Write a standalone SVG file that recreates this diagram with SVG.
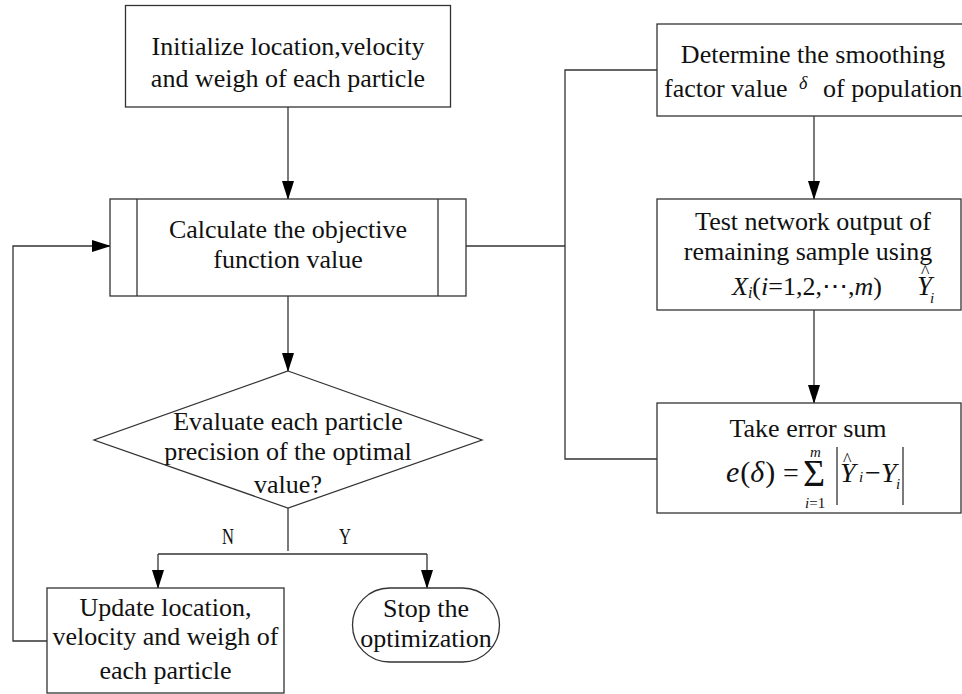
<svg xmlns="http://www.w3.org/2000/svg" width="962" height="694" viewBox="0 0 962 694">
<style>
.box{fill:#fff;stroke:#333;stroke-width:1.3}
.ln{fill:none;stroke:#333;stroke-width:1.3}
text{font-family:"Liberation Serif","Times New Roman",serif;font-size:26px;fill:#111}
.c{text-anchor:middle}
.it{font-style:italic}
</style>
<defs>
<marker id="ah2" markerWidth="19" markerHeight="12" refX="18" refY="6" orient="auto" markerUnits="userSpaceOnUse" viewBox="0 0 19 12">
<path d="M0,0 L19,6 L0,12 Z" fill="#000"/>
</marker>
</defs>
<rect width="962" height="694" fill="#fff"/>
<g id="connectors">
<line class="ln" x1="288" y1="107" x2="288" y2="199" marker-end="url(#ah2)"/>
<line class="ln" x1="288" y1="296" x2="288" y2="371" marker-end="url(#ah2)"/>
<polyline class="ln" points="288,508 288,551"/>
<polyline class="ln" points="158,554 427,554"/>
<line class="ln" x1="158" y1="554" x2="158" y2="588" marker-end="url(#ah2)"/>
<line class="ln" x1="427" y1="554" x2="427" y2="588" marker-end="url(#ah2)"/>
<polyline class="ln" points="47,641 13,641 13,246 110,246" marker-end="url(#ah2)"/>
<polyline class="ln" points="466,246 565,246"/>
<polyline class="ln" points="657,70 565,70 565,459 657,459"/>
<line class="ln" x1="814" y1="116" x2="814" y2="199" marker-end="url(#ah2)"/>
<line class="ln" x1="814" y1="310" x2="814" y2="403" marker-end="url(#ah2)"/>
<text class="c" transform="translate(228,544) scale(0.72,1)" style="font-size:23px">N</text>
<text class="c" transform="translate(345,544) scale(0.72,1)" style="font-size:23px">Y</text>
</g>
<g id="init">
<rect class="box" x="125.5" y="5.5" width="325" height="101.5"/>
<text class="c" x="288" y="55">Initialize location,velocity</text>
<text class="c" x="288" y="87">and weigh of each particle</text>
</g>
<g id="calc">
<rect class="box" x="110" y="199" width="356" height="97"/>
<line class="ln" x1="137" y1="199" x2="137" y2="296"/>
<line class="ln" x1="438" y1="199" x2="438" y2="296"/>
<text class="c" x="288" y="238">Calculate the objective</text>
<text class="c" x="288" y="268">function value</text>
</g>
<g id="evaluate">
<polygon class="box" points="288,371 482,440 288,508 94,440"/>
<text class="c" x="288" y="430">Evaluate each particle</text>
<text class="c" x="288" y="460">precision of the optimal</text>
<text class="c" x="288" y="493">value?</text>
</g>
<g id="update">
<rect class="box" x="47" y="588" width="237" height="105"/>
<text class="c" x="165.5" y="616">Update location,</text>
<text class="c" x="165.5" y="645">velocity and weigh of</text>
<text class="c" x="165.5" y="679">each particle</text>
</g>
<g id="stop">
<rect class="box" x="352.5" y="588" width="147" height="74" rx="37" ry="37"/>
<text class="c" x="426" y="617">Stop the</text>
<text class="c" x="426" y="647">optimization</text>
</g>
<g id="determine">
<rect class="box" x="657" y="24" width="320" height="92"/>
<text class="c" x="813" y="63">Determine the smoothing</text>
<text x="664" y="97">factor value</text>
<text x="799" y="89" class="it" style="font-size:18px">δ</text>
<text x="823" y="97">of population</text>
</g>
<g id="test">
<rect class="box" x="657" y="199" width="304" height="111"/>
<text class="c" x="813" y="230">Test network output of</text>
<text class="c" x="808" y="260">remaining sample using</text>
<text x="732" y="295"><tspan class="it">X</tspan><tspan class="it" style="font-size:16px" dy="3">i</tspan><tspan dy="-3">(</tspan><tspan class="it">i</tspan>=1,2,⋯,<tspan class="it">m</tspan>)</text>
<text x="917" y="295" class="it" style="font-size:27px">Y</text>
<text x="930" y="303" class="it" style="font-size:15px">i</text>
<text x="921" y="278" style="font-size:18px">^</text>
</g>
<g id="errorsum">
<rect class="box" x="657" y="403" width="304" height="110"/>
<text class="c" x="808" y="437">Take error sum</text>
<text x="726" y="482" style="font-size:30px"><tspan class="it">e</tspan><tspan dx="1">(</tspan><tspan class="it">δ</tspan><tspan dx="1">)</tspan></text>
<text x="783" y="482" style="font-size:28px">=</text>
<text x="803" y="486" style="font-size:38px">Σ</text>
<text x="810" y="457" class="it" style="font-size:15px">m</text>
<text x="805" y="508" style="font-size:15px"><tspan class="it">i</tspan>=1</text>
<line class="ln" x1="837" y1="447" x2="837" y2="505"/>
<text x="840" y="482" class="it" style="font-size:28px">Y</text>
<text x="843" y="466" style="font-size:18px">^</text>
<text x="859" y="482" class="it" style="font-size:15px">i</text>
<text x="865" y="482" style="font-size:28px">−</text>
<text x="881" y="482" class="it" style="font-size:28px">Y</text>
<text x="896" y="489" class="it" style="font-size:15px">i</text>
<line class="ln" x1="903" y1="447" x2="903" y2="505"/>
</g>
</svg>
